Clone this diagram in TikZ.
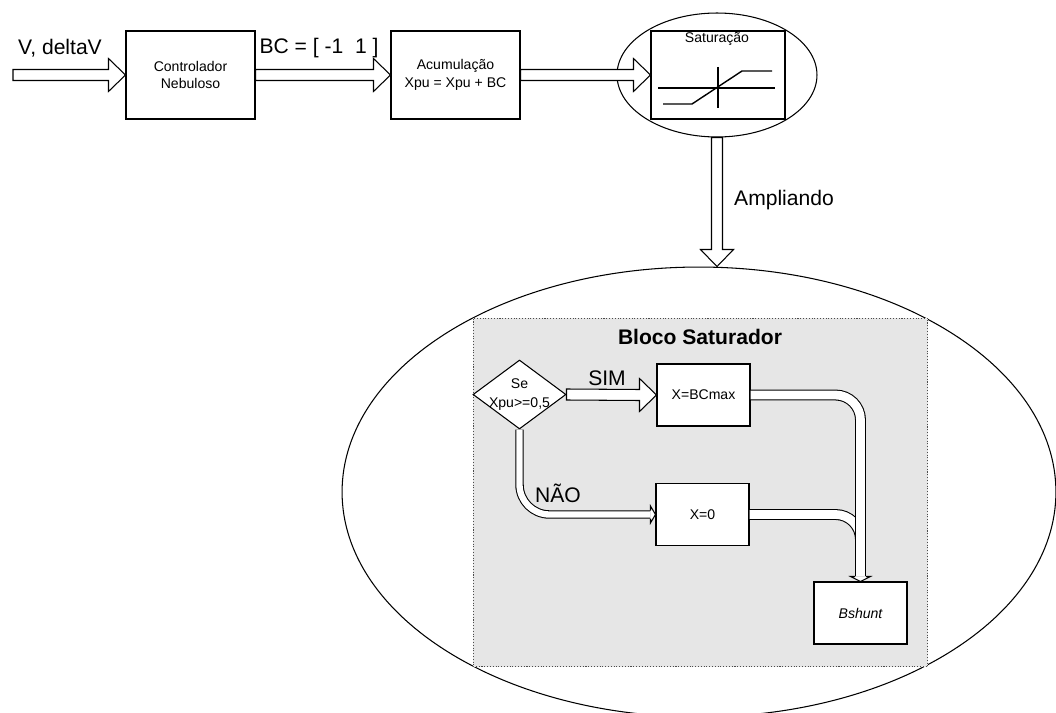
\documentclass[tikz,border=0pt]{standalone}
\usepackage{fontspec}
\setmainfont{Liberation Sans}
\usetikzlibrary{shapes.geometric, positioning, calc}
\definecolor{blocogray}{RGB}{230,230,230}
\tikzset{
  box/.style={draw, fill=white, line width=0.6pt, minimum width=1.86cm, minimum height=1.24cm, inner sep=0, align=center, font=\fontsize{8}{10.2}\selectfont},
  small/.style={font=\fontsize{8}{10.2}\selectfont},
  big/.style={font=\fontsize{12}{14}\selectfont},
  blk/.style={draw, fill=white, line width=0.6pt, line join=miter},
  dbl/.style={draw, line width=0.6pt, double=white, double distance=5pt},
  hblock/.style={to path={($(\tikztostart)+(0,5.5)$) -- ($(\tikztotarget)+(-17,5.5)$) -- ($(\tikztotarget)+(-17,16.5)$) -- (\tikztotarget)
      -- ($(\tikztotarget)+(-17,-16.5)$) -- ($(\tikztotarget)+(-17,-5.5)$) -- ($(\tikztostart)+(0,-5.5)$) -- cycle}},
  vblock/.style={to path={($(\tikztostart)+(5.5,0)$) -- ($(\tikztotarget)+(5.5,-17)$) -- ($(\tikztotarget)+(16.5,-17)$) -- (\tikztotarget)
      -- ($(\tikztotarget)+(-16.5,-17)$) -- ($(\tikztotarget)+(-5.5,-17)$) -- ($(\tikztostart)+(-5.5,0)$) -- cycle}}
}
\begin{document}
\begin{tikzpicture}[x=0.02cm, y=-0.02cm]
  \useasboundingbox (0,0) rectangle (1056,713);
  \clip (0,0) rectangle (1056,713);

  % Nodes
  \coordinate (in) at (13,75);
  \node[box, minimum width=2.58cm, minimum height=1.76cm] (ctrl) at (190.5,75) {Controlador\\Nebuloso};
  \node[box, minimum width=2.58cm, minimum height=1.76cm] (acum) at (455.5,75) {Acumulação\\Xpu = Xpu + BC};
  \node[ellipse, draw, line width=0.6pt, minimum width=4cm, minimum height=2.48cm, inner sep=0] (satell) at (717,75) {};
  \node[box, minimum width=2.68cm, minimum height=1.76cm] (sat) at (718,75) {};
  \node[small] at (717,39) {Saturação};
  \node[big] at (60,48) {V, deltaV};
  \node[big] at (319,48) {BC = [ -1~~1 ]};

  % saturation curve
  \draw[line width=0.6pt] (658,88) -- (775,88);
  \draw[line width=0.6pt] (718,67) -- (718,108);
  \draw[line width=0.8pt] (663,104) -- (692,104) -- (742,71) -- (772,71);

  % zoomed block
  \node[ellipse, draw, line width=0.6pt, minimum width=14.28cm, minimum height=9cm, inner sep=0] (big) at (699,492) {};
  \coordinate (zoomtip) at (satell.south |- big.north);
  \node[rectangle, fill=blocogray, draw=black!70, densely dotted, line width=0.6pt, minimum width=9.1cm, minimum height=6.98cm] (bloco) at (700.5,492.5) {};
  \node[font=\bfseries\fontsize{12}{14}\selectfont] at (700,337) {Bloco Saturador};
  \node[diamond, draw, fill=white, line width=0.6pt, minimum width=1.86cm, minimum height=1.38cm, inner sep=0] (dec) at (519.5,394.5) {};
  \node[font=\fontsize{8}{10.8}\selectfont, align=center] at (dec) {Se\\Xpu>=0,5};
  \node[box] (bcmax) at (703.5,395) {X=BCmax};
  \node[box] (zero) at (702.5,514.5) {X=0};
  \node[box, font=\itshape\fontsize{8}{10.2}\selectfont] (bshunt) at (860.5,613) {Bshunt};

  % Connecting lines
  \draw[blk] (in) to[hblock] (ctrl.west);
  \draw[blk] (ctrl.east) to[hblock] (acum.west);
  \draw[blk] (acum.east) to[hblock] (sat.west);
  \draw[blk] (satell.south) to[vblock] (zoomtip);
  \node[big, anchor=west] at (728,200) {Ampliando};

  \draw[blk] (dec.east) to[hblock] (bcmax.west);
  \node[big] at (607,378) {SIM};

  \draw[dbl, double distance=3.6pt, rounded corners=0.6cm] (dec.south) |- ([shift={(-5,0)}]zero.west);
  \draw[blk] ([shift={(-5,4)}]zero.west) -- ([shift={(-5,8.5)}]zero.west) -- (zero.west) -- ([shift={(-5,-8.5)}]zero.west) -- ([shift={(-5,-4)}]zero.west);
  \node[big] at (558,493) {NÃO};

  \draw[dbl, rounded corners=0.5cm] (zero.east) -| ([shift={(0,-5)}]bshunt.north);
  \draw[dbl, rounded corners=0.5cm] (bcmax.east) -| ([shift={(0,-5)}]bshunt.north);
  \draw[blk] ([shift={(-5.5,-5)}]bshunt.north) -- ([shift={(-10,-5)}]bshunt.north) -- (bshunt.north) -- ([shift={(10,-5)}]bshunt.north) -- ([shift={(5.5,-5)}]bshunt.north);
\end{tikzpicture}
\end{document}
